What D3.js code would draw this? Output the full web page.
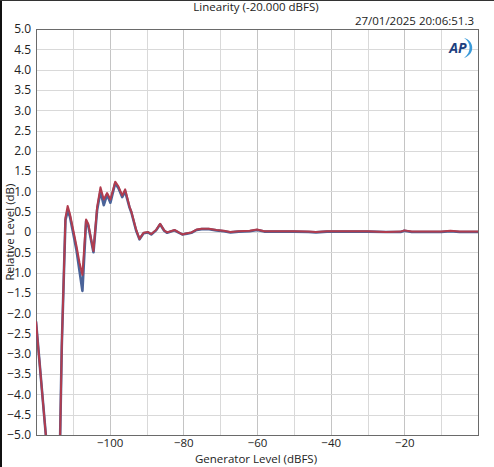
<!DOCTYPE html>
<html>
<head>
<meta charset="utf-8">
<script src="https://cdn.jsdelivr.net/npm/d3@7"></script>
<style>
  html, body { margin: 0; padding: 0; background: #fff; }
  svg text { font-family: "Open Sans", "Noto Sans", sans-serif; fill: #222; }
  .grid line { stroke: #d9d9d9; shape-rendering: crispEdges; }
  .grid .major line { stroke: #c4c4c4; }
  .grid path { display: none; }
  .axis path, .axis line { display: none; }
</style>
</head>
<body>
<script>
(function () {

  // Generator level (dBFS)
  let levels = [
    -120, -116, -115, -114, -113, -112, -111.4, -110.8, -110, -109,
    -108.2, -107.4, -106.4, -105.8, -104.4, -103.4, -102.5, -101.6, -100.7, -99.8,
    -98.5, -97.6, -96.6, -95.8, -94.6, -94.1, -92.8, -91.9, -90.8, -89.6,
    -88.7, -87.4, -86.3, -85.2, -84.4, -83.4, -82.4, -81.4, -80.3, -79,
    -77.8, -76.4, -75, -73, -71, -69, -67.2, -65, -62, -60,
    -58, -55, -50, -46, -44, -41, -35, -30, -25, -21,
    -20, -18, -14, -10, -7.5, -5, 0
  ];

  // Relative level (dB), channel 1 (blue)
  let blueValues = [
    -2.2, -6.4, -8.6, -7.8, -2.8, 0.3, 0.52, 0.38, 0.02, -0.45,
    -0.95, -1.45, 0.27, 0.15, -0.5, 0.55, 1.0, 0.66, 0.92, 0.72,
    1.2, 1.08, 0.86, 1.0, 0.6, 0.48, 0.03, -0.18, -0.03, -0.01,
    -0.06, 0.04, 0.19, 0.03, -0.02, 0.01, 0.04, -0.01, -0.06, -0.04,
    -0.02, 0.05, 0.07, 0.07, 0.04, 0.02, -0.01, 0.01, 0.02, 0.05,
    0.01, 0.01, 0.01, 0.0, -0.01, 0.01, 0.01, 0.01, 0.0, 0.0,
    0.03, 0.0, 0.0, 0.0, 0.02, 0.0, 0.0
  ];

  // Relative level (dB), channel 2 (red)
  let redValues = [
    -2.2, -6.4, -8.6, -7.8, -2.8, 0.35, 0.64, 0.45, 0.1, -0.35,
    -0.75, -1.06, 0.31, 0.2, -0.47, 0.62, 1.1, 0.8, 0.96, 0.8,
    1.24, 1.12, 0.9, 1.05, 0.62, 0.5, 0.05, -0.17, -0.02, 0.0,
    -0.05, 0.05, 0.2, 0.04, -0.01, 0.02, 0.05, 0.0, -0.06, -0.03,
    -0.01, 0.06, 0.08, 0.08, 0.05, 0.03, 0.0, 0.02, 0.03, 0.06,
    0.02, 0.02, 0.02, 0.01, 0.0, 0.02, 0.02, 0.02, 0.0, 0.01,
    0.04, 0.01, 0.01, 0.01, 0.03, 0.01, 0.01
  ];

  let xTickLabels = [-100, -80, -60, -40, -20];
  let xGridTicks  = d3.range(-110, 0, 10);
  let yTicks      = d3.range(-5, 5.001, 0.5);

  function go() {

    let totalWidth  = 494;
    let totalHeight = 467;
    let margin      = { top: 29, right: 16, bottom: 32, left: 36 };
    let width       = totalWidth - (margin.left + margin.right);
    let height      = totalHeight - (margin.top + margin.bottom);

    let xScale = d3.scaleLinear().domain([-120, 0]).range([0, width]);
    let yScale = d3.scaleLinear().domain([-5, 5]).range([height, 0]);

    let svg = d3.select('body').append('svg')
        .attr('width', totalWidth)
        .attr('height', totalHeight);

    // window frame
    svg.append('line').attr('x1', 1).attr('x2', 1).attr('y1', 0).attr('y2', totalHeight)
      .attr('stroke', '#111').attr('stroke-width', 2);
    svg.append('line').attr('x1', 0).attr('x2', totalWidth).attr('y1', 0.5).attr('y2', 0.5)
      .attr('stroke', '#333').attr('stroke-width', 1);

    let plot = svg.append('g')
        .attr('transform', 'translate(' + margin.left + ',' + margin.top + ')');

    // gridlines
    plot.append('g')
      .attr('class', 'grid')
      .attr('transform', 'translate(0,' + height + ')')
      .call(d3.axisBottom(xScale).tickValues(xGridTicks).tickSize(-height).tickFormat(''))
      .selectAll('.tick')
      .classed('major', function (d) { return xTickLabels.indexOf(d) >= 0; });

    plot.append('g')
      .attr('class', 'grid')
      .call(d3.axisLeft(yScale).tickValues(yTicks).tickSize(-width).tickFormat(''));

    // axis labels
    plot.append('g')
      .attr('class', 'axis')
      .attr('transform', 'translate(0,' + height + ')')
      .call(d3.axisBottom(xScale).tickValues(xTickLabels).tickSize(0).tickPadding(4).tickFormat(d3.format('d')))
      .selectAll('text').style('font-size', '11.5px').attr('fill', '#222');

    plot.append('g')
      .attr('class', 'axis')
      .call(d3.axisLeft(yScale).tickValues(yTicks).tickSize(0).tickPadding(5)
        .tickFormat(function (d) { return Math.abs(d) < 1e-9 ? '0' : d3.format('.1f')(d); }))
      .selectAll('text').style('font-size', '12px').attr('fill', '#222');

    // plot border
    plot.append('rect')
      .attr('width', width).attr('height', height)
      .attr('fill', 'none').attr('stroke', '#6a6a6a').attr('stroke-width', 1)
      .attr('shape-rendering', 'crispEdges');

    plot.append('clipPath').attr('id', 'plotClip')
      .append('rect').attr('width', width).attr('height', height);

    let line = d3.line()
        .x(function (d, i) { return xScale(levels[i]); })
        .y(function (d) { return yScale(d); });

    let traces = plot.append('g').attr('clip-path', 'url(#plotClip)');

    traces.append('path')
      .datum(blueValues)
      .attr('d', line)
      .attr('fill', 'none')
      .attr('stroke', '#4a6399')
      .attr('stroke-width', 2.6)
      .attr('stroke-linejoin', 'round');

    traces.append('path')
      .datum(redValues)
      .attr('d', line)
      .attr('fill', 'none')
      .attr('stroke', '#b13c4e')
      .attr('stroke-width', 2)
      .attr('stroke-linejoin', 'round');

    // titles
    svg.append('text')
      .attr('x', 256).attr('y', 11)
      .attr('text-anchor', 'middle')
      .style('font-size', '11.5px')
      .text('Linearity (-20.000 dBFS)');

    svg.append('text')
      .attr('x', 474).attr('y', 25)
      .attr('text-anchor', 'end')
      .style('font-size', '11.5px')
      .text('27/01/2025 20:06:51.3');

    svg.append('text')
      .attr('x', 256).attr('y', 463)
      .attr('text-anchor', 'middle')
      .style('font-size', '11.5px')
      .text('Generator Level (dBFS)');

    svg.append('text')
      .attr('transform', 'translate(14,' + (margin.top + height / 2) + ') rotate(-90)')
      .attr('text-anchor', 'middle')
      .style('font-size', '11.5px')
      .text('Relative Level (dB)');

    // AP logo
    let logo = svg.append('g').attr('transform', 'translate(460,48)');
    logo.append('path')
      .attr('d', 'M4,-10 C14,-8 16,6 4,10 C12,4 11,-6 4,-10 Z')
      .attr('fill', '#3a9ad9');
    logo.append('text')
      .attr('x', -2).attr('y', 5)
      .attr('text-anchor', 'middle')
      .style('font-size', '14px')
      .style('font-weight', 'bold')
      .style('font-style', 'italic')
      .style('fill', '#1d3f80')
      .text('AP');
  }

  document.addEventListener("DOMContentLoaded", go);

})();
</script>
</body>
</html>
